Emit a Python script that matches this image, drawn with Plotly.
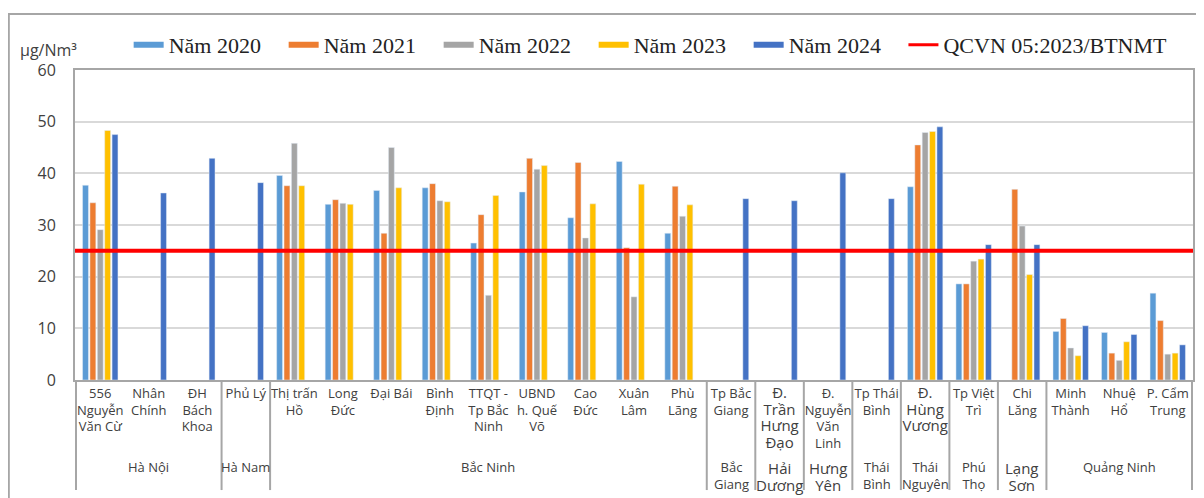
import plotly.graph_objects as go

# stations (x categories) and their provinces
stations = [
    "556<br>Nguyễn<br>Văn Cừ", "Nhân<br>Chính", "ĐH<br>Bách<br>Khoa",
    "Phủ Lý",
    "Thị trấn<br>Hồ", "Long<br>Đức", "Đại Bái", "Bình<br>Định", "TTQT -<br>Tp Bắc<br>Ninh",
    "UBND<br>h. Quế<br>Võ", "Cao<br>Đức", "Xuân<br>Lâm", "Phù<br>Lãng",
    "Tp Bắc<br>Giang", "Đ.<br>Trần<br>Hưng<br>Đạo", "Đ.<br>Nguyễn<br>Văn<br>Linh",
    "Tp Thái<br>Bình", "Đ.<br>Hùng<br>Vương", "Tp Việt<br>Trì", "Chi<br>Lăng",
    "Minh<br>Thành", "Nhuệ<br>Hổ", "P. Cẩm<br>Trung",
]
provinces = ["Hà Nội", "Hà Nam", "Bắc Ninh", "Bắc<br>Giang", "Hải<br>Dương", "Hưng<br>Yên",
             "Thái<br>Bình", "Thái<br>Nguyên", "Phú<br>Thọ", "Lạng<br>Sơn", "Quảng Ninh"]
province_sizes = [3, 1, 9, 1, 1, 1, 1, 1, 1, 1, 3]
big_labels = {"Đ.<br>Trần<br>Hưng<br>Đạo", "Đ.<br>Hùng<br>Vương",
              "Hải<br>Dương", "Hưng<br>Yên", "Lạng<br>Sơn"}

N = None
y2020 = [37.7, N, N, N, 39.6, 34.0, 36.7, 37.2, 26.5, 36.4, 31.4, 42.3, 28.4,
         N, N, N, N, 37.4, 18.6, N, 9.4, 9.2, 16.8]
y2021 = [34.3, N, N, N, 37.6, 34.9, 28.4, 38.0, 32.0, 42.9, 42.1, 25.6, 37.5,
         N, N, N, N, 45.5, 18.6, 36.9, 11.9, 5.2, 11.5]
y2022 = [29.1, N, N, N, 45.8, 34.2, 45.0, 34.7, 16.4, 40.8, 27.5, 16.1, 31.7,
         N, N, N, N, 47.9, 23.0, 29.8, 6.2, 3.8, 5.0]
y2023 = [48.3, N, N, N, 37.6, 34.0, 37.2, 34.5, 35.7, 41.5, 34.1, 37.9, 33.9,
         N, N, N, N, 48.1, 23.4, 20.4, 4.7, 7.4, 5.2]
y2024 = [47.5, 36.2, 42.9, 38.2, N, N, N, N, N, N, N, N, N,
         35.1, 34.7, 40.1, 35.1, 49.0, 26.2, 26.2, 10.5, 8.8, 6.8]
qcvn_limit = 25

series = [
    ("Năm 2020", y2020, "#5B9BD5"),
    ("Năm 2021", y2021, "#ED7D31"),
    ("Năm 2022", y2022, "#A5A5A5"),
    ("Năm 2023", y2023, "#FFC000"),
    ("Năm 2024", y2024, "#4472C4"),
]

SANS = "Open Sans"
SERIF = "Liberation Serif"
TXT = "#404040"

def big(s):
    return f'<span style="font-size:15px">{s}</span>' if s in big_labels else s

fig = go.Figure()

for name, vals, color in series:
    fig.add_trace(go.Bar(x=stations, y=vals, name=name, marker_color=color,
                         showlegend=False, hoverinfo="skip"))
# wide legend swatches like the original
for name, vals, color in series:
    fig.add_trace(go.Scatter(x=[None], y=[None], mode="lines", name=name,
                             line=dict(color=color, width=6)))
fig.add_trace(go.Scatter(x=[None], y=[None], mode="lines", name="QCVN 05:2023/BTNMT",
                         line=dict(color="#FF0000", width=3), legend="legend2"))

# standard line
fig.add_shape(type="line", xref="paper", x0=0, x1=1, y0=qcvn_limit, y1=qcvn_limit,
              line=dict(color="#FF0000", width=4), layer="above")

# province group labels and separators
start = 0
bottom = -0.355
for prov, n in zip(provinces, province_sizes):
    fig.add_annotation(x=start + (n - 1) / 2, xref="x", y=-0.245, yref="paper",
                       text=big(prov), showarrow=False, yanchor="top",
                       font=dict(family=SANS, size=13, color=TXT))
    fig.add_shape(type="line", xref="x", x0=start - 0.5, x1=start - 0.5,
                  yref="paper", y0=0, y1=bottom, line=dict(color="#A6A6A6", width=2))
    start += n
fig.add_shape(type="line", xref="x", x0=start - 0.5, x1=start - 0.5,
              yref="paper", y0=0, y1=bottom, line=dict(color="#A6A6A6", width=2))

# unit label
fig.add_annotation(x=-0.051, xref="paper", y=1.106, yref="paper", text="µg/Nm³",
                   showarrow=False, xanchor="left", font=dict(family=SANS, size=16, color=TXT))

# outer frame
fig.add_shape(type="rect", xref="paper", yref="paper", x0=-0.0592, x1=1.05, y0=-0.6, y1=1.1806,
              line=dict(color="#A6A6A6", width=2), layer="below")

# page body has an 8px margin, so the figure is 8px smaller than the window
legend_font = dict(family=SERIF, size=22, color="#222222")
fig.update_layout(
    width=1196, height=490,
    margin=dict(l=67, r=11, t=62, b=118, autoexpand=False),
    plot_bgcolor="white", paper_bgcolor="white",
    barmode="group", bargap=0.24, bargroupgap=0.2,
    showlegend=True,
    legend=dict(orientation="h", x=0.048, xanchor="left", y=1.081, yanchor="middle",
                font=legend_font, entrywidth=110, entrywidthmode="pixels",
                bgcolor="rgba(0,0,0,0)"),
    legend2=dict(orientation="h", x=0.741, xanchor="left", y=1.081, yanchor="middle",
                 font=legend_font, bgcolor="rgba(0,0,0,0)"),
    xaxis=dict(type="category", tickvals=stations, ticktext=[big(s) for s in stations],
               tickfont=dict(family=SANS, size=13, color=TXT), tickangle=0,
               showline=True, linecolor="#A6A6A6", linewidth=2, mirror=True,
               showgrid=False, ticks="", automargin=False),
    yaxis=dict(range=[0, 60], dtick=10, tickfont=dict(family=SANS, size=16, color=TXT),
               showline=True, linecolor="#A6A6A6", linewidth=2, mirror=True,
               gridcolor="#D9D9D9", gridwidth=1.5, zeroline=False,
               ticks="", ticklabelstandoff=14, automargin=False),
)

fig.write_html("out.html")
